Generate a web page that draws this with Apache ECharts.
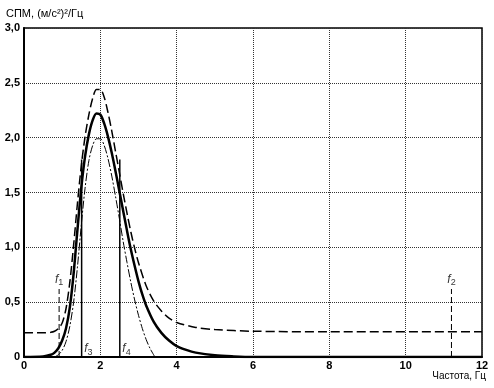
<!DOCTYPE html>
<html>
<head>
<meta charset="utf-8">
<script src="https://cdn.jsdelivr.net/npm/echarts@6/dist/echarts.min.js"></script>
<style>
  html, body { margin: 0; padding: 0; background: #fff; }
  #spm { width: 494px; height: 388px; }
</style>
</head>
<body>
<div id="spm"></div>
<script>
    // dashed curve (with plateau ~0.23)
    let freqDash = [0, 0.5, 0.7, 0.8, 0.9, 1.0, 1.1, 1.2, 1.3, 1.4, 1.5, 1.6, 1.7, 1.8, 1.9, 2.0, 2.1, 2.2, 2.3, 2.4, 2.5, 2.6, 2.7, 2.8, 2.9, 3.0, 3.2, 3.4, 3.6, 3.8, 4.0, 4.5, 5, 6, 8, 12];
    let spmDash  = [0.22, 0.22, 0.225, 0.235, 0.26, 0.31, 0.44, 0.68, 1.02, 1.40, 1.74, 2.01, 2.21, 2.36, 2.44, 2.44, 2.37, 2.23, 2.06, 1.87, 1.68, 1.49, 1.31, 1.14, 0.99, 0.86, 0.65, 0.51, 0.42, 0.355, 0.315, 0.27, 0.25, 0.235, 0.23, 0.23];

    // thick solid curve
    let freqSolid = [0, 0.5, 0.7, 0.8, 0.9, 1.0, 1.1, 1.2, 1.3, 1.4, 1.5, 1.6, 1.7, 1.8, 1.9, 2.0, 2.1, 2.2, 2.3, 2.4, 2.5, 2.6, 2.7, 2.8, 2.9, 3.0, 3.1, 3.2, 3.4, 3.6, 3.8, 4.0, 4.25, 4.5, 5, 5.5, 6, 12];
    let spmSolid  = [0, 0.005, 0.02, 0.04, 0.08, 0.15, 0.26, 0.45, 0.76, 1.16, 1.54, 1.83, 2.03, 2.16, 2.22, 2.21, 2.13, 2.01, 1.86, 1.69, 1.51, 1.33, 1.15, 0.98, 0.83, 0.69, 0.57, 0.47, 0.32, 0.22, 0.15, 0.10, 0.065, 0.04, 0.015, 0.005, 0, 0];

    // thin dash-dot curve
    let freqDot = [0.8, 0.9, 1.0, 1.1, 1.2, 1.3, 1.4, 1.5, 1.6, 1.7, 1.8, 1.9, 2.0, 2.1, 2.2, 2.3, 2.4, 2.5, 2.6, 2.7, 2.8, 2.9, 3.0, 3.1, 3.2, 3.3, 3.43];
    let spmDot  = [0, 0.02, 0.06, 0.14, 0.28, 0.50, 0.82, 1.20, 1.54, 1.79, 1.93, 1.99, 1.99, 1.93, 1.81, 1.65, 1.46, 1.26, 1.05, 0.86, 0.68, 0.52, 0.38, 0.26, 0.16, 0.08, 0];

    // boundary frequencies f1..f4
    let markNames   = ['1', '2', '3', '4'];
    let markFreqs   = [0.92, 11.2, 1.51, 2.51];
    let markHeights = [0.62, 0.62, 1.8, 1.8];

    let yTicks = ['0', '0,5', '1,0', '1,5', '2,0', '2,5', '3,0'];

    let chart = echarts.init(document.getElementById('spm'));

    let zip = (xs, ys) => xs.map((x, i) => [x, ys[i]]);

    let fRich = {
        i: { fontFamily: 'Liberation Sans', fontStyle: 'italic', fontSize: 12, color: '#000' },
        s: { fontFamily: 'Liberation Sans', fontSize: 9, color: '#000', padding: [7, 0, 0, 0] }
    };

    // vertical boundary lines
    let markSeries = markFreqs.map((f, k) => {
        let dashed = k < 2;
        return {
            type: 'line',
            symbol: 'none',
            silent: true,
            lineStyle: {
                color: '#000',
                width: dashed ? 1 : 1.5,
                type: dashed ? [6, 3] : 'solid'
            },
            data: [[f, 0], [f, markHeights[k]]],
            z: 1
        };
    });

    // f labels: f1, f2 above the line tops, f3, f4 at the foot, right of the line
    let labelData = markFreqs.map((f, k) => {
        let top = k < 2;
        return {
            value: top ? [f, markHeights[k]] : [f, 0],
            label: {
                show: true,
                position: top ? 'top' : 'right',
                distance: top ? 1 : 2,
                offset: top ? [0, 0] : [0, -8],
                formatter: '{i|f}{s|' + markNames[k] + '}',
                rich: fRich
            }
        };
    });

    let option = {
        animation: false,
        title: [{
            text: 'СПМ, (м/с²)²/Гц',
            left: 1,
            top: 3,
            textStyle: { fontFamily: 'Liberation Sans', fontSize: 11, fontWeight: 'normal', color: '#000' }
        }, {
            text: 'Частота, Гц',
            right: 3,
            bottom: 2,
            textStyle: { fontFamily: 'Liberation Sans', fontSize: 10, fontWeight: 'normal', color: '#000' }
        }],
        grid: {
            left: 24,
            right: 12,
            top: 28,
            bottom: 31,
            show: true,
            borderColor: '#000',
            borderWidth: 1.5
        },
        xAxis: {
            type: 'value',
            min: 0,
            max: 12,
            interval: 2,
            axisLine: { lineStyle: { color: '#000', width: 2 } },
            axisTick: { show: false },
            splitLine: { show: true, lineStyle: { color: '#333', width: 1, type: 'dotted' } },
            axisLabel: { color: '#000', fontFamily: 'Liberation Sans', fontSize: 11, fontWeight: 'bold', margin: 3 }
        },
        yAxis: {
            type: 'value',
            min: 0,
            max: 3,
            interval: 0.5,
            axisLine: { show: true, lineStyle: { color: '#000', width: 2 } },
            axisTick: { show: false },
            splitLine: { show: true, lineStyle: { color: '#333', width: 1, type: 'dotted' } },
            axisLabel: {
                color: '#000', fontFamily: 'Liberation Sans', fontSize: 11, fontWeight: 'bold', margin: 4,
                formatter: v => yTicks[Math.round(v / 0.5)]
            }
        },
        series: [{
            type: 'line',
            symbol: 'none',
            smooth: 0.3,
            lineStyle: { color: '#000', width: 1.5, type: [9, 4] },
            data: zip(freqDash, spmDash),
            z: 3
        }, {
            type: 'line',
            symbol: 'none',
            smooth: 0.3,
            lineStyle: { color: '#000', width: 2.5, type: 'solid' },
            data: zip(freqSolid, spmSolid),
            z: 4
        }, {
            type: 'line',
            symbol: 'none',
            smooth: 0.3,
            lineStyle: { color: '#000', width: 1, type: [8, 2, 2, 2] },
            data: zip(freqDot, spmDot),
            z: 3
        }, {
            type: 'scatter',
            symbolSize: 1,
            silent: true,
            itemStyle: { color: 'rgba(0,0,0,0)' },
            data: labelData,
            z: 5
        }].concat(markSeries)
    };

    chart.setOption(option);
</script>
</body>
</html>
